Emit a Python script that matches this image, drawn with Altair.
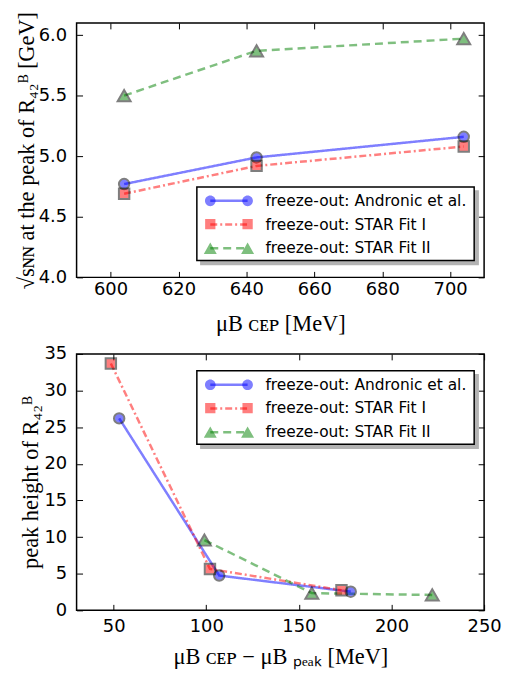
import altair as alt
import pandas as pd

series = ["freeze-out: Andronic et al.", "freeze-out: STAR Fit I", "freeze-out: STAR Fit II"]
colors = ["#0000ff", "#ff0000", "#008000"]
dashes = [[1, 0], [7, 3, 2, 3], [8, 5]]
shapes = ["circle", "square", "triangle-up"]

# top panel: sqrt(s_NN) at the peak vs mu_B CEP
top_x_andronic = [604, 643, 704]
top_y_andronic = [4.77, 4.99, 5.16]
top_x_fit1 = [604, 643, 704]
top_y_fit1 = [4.69, 4.92, 5.08]
top_x_fit2 = [604, 643, 704]
top_y_fit2 = [5.50, 5.87, 5.97]

# bottom panel: peak height vs mu_B CEP - mu_B peak
bot_x_andronic = [53, 107, 178]
bot_y_andronic = [26.2, 4.75, 2.55]
bot_x_fit1 = [48.5, 102, 173]
bot_y_fit1 = [33.7, 5.65, 2.75]
bot_x_fit2 = [99, 157, 222]
bot_y_fit2 = [9.6, 2.35, 2.1]

top_xticks = [600, 620, 640, 660, 680, 700]
top_yticks = [4.0, 4.5, 5.0, 5.5, 6.0]
bot_xticks = [50, 100, 150, 200, 250]
bot_yticks = [0, 5, 10, 15, 20, 25, 30, 35]

# legend glyphs: a line with a marker at each end (units of half the symbol size)
leg_line = "M -0.05 0 L 3.8 0"
leg_markers = [
    "M -0.6 0 A 0.55 0.55 0 1 1 0.5 0 A 0.55 0.55 0 1 1 -0.6 0 Z "
    "M 3.25 0 A 0.55 0.55 0 1 1 4.35 0 A 0.55 0.55 0 1 1 3.25 0 Z",
    "M -0.58 -0.53 H 0.48 V 0.53 H -0.58 Z M 3.27 -0.53 H 4.33 V 0.53 H 3.27 Z",
    "M -0.05 -0.62 L 0.62 0.55 L -0.72 0.55 Z M 3.8 -0.62 L 4.47 0.55 L 3.13 0.55 Z",
]
NBSP = "\u00a0" * 41


def make_df(xs, ys):
    rows = []
    for s, xv, yv in zip(series, xs, ys):
        for a, b in zip(xv, yv):
            rows.append({"x": a, "y": b, "series": s, "series_a": s + " ",
                         "series_w": s + "   ", "series_c": s + "  "})
    return pd.DataFrame(rows)


TICK = {"expr": "-6"}
LEG_COMMON = dict(
    orient="none", direction="vertical", title=None,
    labelFont="DejaVu Sans", labelFontSize=15.5, labelColor="black", labelLimit=400,
    symbolSize=380.25, symbolStrokeWidth=2.5, padding=3,
)


def box_legend(lx, ly, color, z):
    return alt.Legend(legendX=lx, legendY=ly, symbolType=leg_line,
                      fillColor=color, strokeColor="black" if color == "white" else color,
                      symbolStrokeColor=color, symbolFillColor=color,
                      labelExpr="'" + NBSP + "'", labelOffset=251, rowPadding=3.9,
                      symbolOpacity=0, labelOpacity=0, zindex=z, **LEG_COMMON)


def panel(df, xdom, ydom, xticks, yticks, xtitle, ytitle, xfmt, yfmt, lx, ly, h, lpad, tpad, ytpad):
    base = alt.Chart(df)
    xs = alt.Scale(domain=xdom, nice=False, zero=False)
    ys = alt.Scale(domain=ydom, nice=False, zero=False)

    X_main = alt.X("x:Q", scale=xs, axis=alt.Axis(
        orient="bottom", values=xticks, format=xfmt, title=xtitle, tickSize=TICK,
        labelPadding=lpad, labelFlush=False, titlePadding=tpad))
    Y_main = alt.Y("y:Q", scale=ys, axis=alt.Axis(
        orient="left", values=yticks, format=yfmt, title=ytitle, tickSize=TICK,
        labelPadding=16, labelFlush=False, titlePadding=ytpad))
    X_top = alt.X("x:Q", scale=xs, axis=alt.Axis(
        orient="top", values=xticks, labels=False, title=None, tickSize=TICK))
    Y_right = alt.Y("y:Q", scale=ys, axis=alt.Axis(
        orient="right", values=yticks, labels=False, title=None, tickSize=TICK))
    X_none = alt.X("x:Q", scale=xs, axis=None)
    Y_none = alt.Y("y:Q", scale=ys, axis=None)

    empty = base.transform_filter("false")

    # legend shadow (grey box offset down-right)
    shadow = empty.mark_point(filled=True, color="#b3b3b3").encode(
        color=alt.Color("series_a:N", scale=alt.Scale(domain=[s + " " for s in series], range=["#b3b3b3"] * 3),
                        legend=box_legend(lx + 4, ly + 4, "#b3b3b3", 1))
    )
    # legend frame (white box, black border)
    framebox = empty.mark_point(color="white", stroke="white", fill="white").encode(
        opacity=alt.Opacity("series_w:O", scale=alt.Scale(domain=[s + "   " for s in series], range=[1, 1, 1]),
                            legend=box_legend(lx, ly, "white", 2))
    )

    # legend line samples and labels
    leg_b = alt.Legend(legendX=lx, legendY=ly, symbolType=leg_line, fillColor="transparent",
                       strokeColor="transparent", symbolOpacity=0.5, labelOffset=44, rowPadding=3.9,
                       zindex=3, **LEG_COMMON)
    lines = base.mark_line(strokeWidth=2.5, opacity=0.5).encode(
        x=X_main, y=Y_main,
        stroke=alt.Stroke("series:N", scale=alt.Scale(domain=series, range=colors), legend=leg_b),
        strokeDash=alt.StrokeDash("series:N", scale=alt.Scale(domain=series, range=dashes), legend=leg_b),
    )

    # legend markers at both ends of each sample line
    leg_c = alt.Legend(legendX=lx, legendY=ly, fillColor="transparent", strokeColor="transparent",
                       symbolOpacity=0.5, symbolStrokeColor="black", labelOpacity=0, zindex=4,
                       labelExpr="'" + NBSP + "'", labelOffset=44, rowPadding=1.5, **LEG_COMMON)
    markers_leg = empty.mark_point(filled=True, stroke="black", strokeWidth=2, opacity=0.5).encode(
        fill=alt.Fill("series_c:N", scale=alt.Scale(domain=[s + "  " for s in series], range=colors), legend=leg_c),
        shape=alt.Shape("series_c:N", scale=alt.Scale(domain=[s + "  " for s in series], range=leg_markers), legend=leg_c),
    )

    sizes = [110, 110, 170]
    pts = []
    for s, c, shp, sz in zip(series, colors, shapes, sizes):
        pts.append(
            base.transform_filter(alt.datum.series == s).mark_point(
                filled=True, shape=shp, size=sz, fill=c, stroke="black", strokeWidth=2, opacity=0.5
            ).encode(x=X_none, y=Y_none)
        )

    frame = base.mark_point(opacity=0).encode(x=X_top, y=Y_right)

    return alt.layer(shadow, framebox, lines, *pts, markers_leg, frame).resolve_axis(
        x="independent", y="independent").properties(width=410, height=h)


top_df = make_df([top_x_andronic, top_x_fit1, top_x_fit2], [top_y_andronic, top_y_fit1, top_y_fit2])
bot_df = make_df([bot_x_andronic, bot_x_fit1, bot_x_fit2], [bot_y_andronic, bot_y_fit1, bot_y_fit2])

top = panel(top_df, [590, 710], [4.0, 6.1], top_xticks, top_yticks,
            "μB ᴄᴇᴘ [MeV]", "√sɴɴ at the peak of R₄₂ᴮ [GeV]", "d", ".1f", 121, 165, 256, 9, 14, 0)
bottom = panel(bot_df, [30, 250], [0, 35], bot_xticks, bot_yticks,
               "μB ᴄᴇᴘ − μB ₚₑₐₖ [MeV]", "peak height of R₄₂ᴮ", "d", "d", 121, 17, 258, 13, 10, 1)

chart = alt.vconcat(top, bottom, spacing=77, bounds="flush").resolve_scale(
    color="independent", stroke="independent", strokeDash="independent",
    fill="independent", shape="independent", opacity="independent"
).properties(padding={"left": 6, "top": 0, "right": 0, "bottom": 0}).configure_view(
    stroke="black", strokeWidth=1.5
).configure_axis(
    grid=False, domain=False, labelFont="DejaVu Sans", labelFontSize=18, labelColor="black",
    tickColor="black", tickWidth=1, titleFont="Liberation Serif", titleFontSize=22.5,
    titleFontWeight="normal", titleColor="black"
).configure_legend(strokeWidth=1.5, cornerRadius=0)

chart.save("out.html", embed_options={"renderer": "svg", "actions": False})
